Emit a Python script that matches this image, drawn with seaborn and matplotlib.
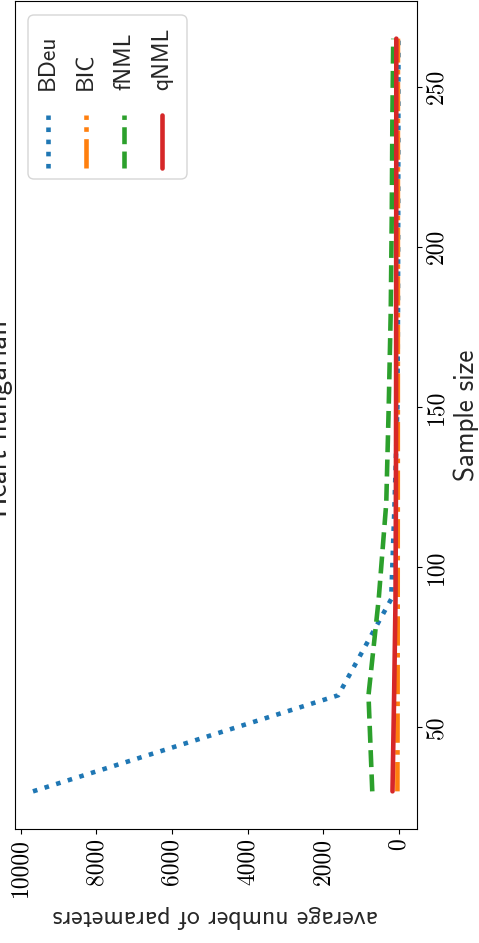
import matplotlib
matplotlib.use("Agg")
import matplotlib.pyplot as plt
import seaborn as sns
from matplotlib.patches import FancyBboxPatch
from matplotlib.lines import Line2D
from matplotlib.transforms import IdentityTransform

# ---- data ----
sample_sizes = [30, 60, 90, 120, 150, 180, 210, 240, 265]
bdeu = [9676, 1600, 200, 110, 35, 20, 14, 10, 8]
bic = [35, 30, 27, 25, 24, 23, 22, 22, 21]
fnml = [700, 800, 530, 330, 265, 211, 184, 168, 145]
qnml = [165, 122, 85, 75, 70, 68, 66, 65, 64]
series_names = ["BDeu", "BIC", "fNML", "qNML"]
param_ticks = [0, 2000, 4000, 6000, 8000, 10000]
size_ticks = [50, 100, 150, 200, 250]
title = "Heart hungarian"
param_label = "average number of parameters"
size_label = "Sample size"

colors = ["#1f77b4", "#ff7f0e", "#2ca02c", "#d62728"]
styles = [":", "-.", "--", "-"]

sns.set_theme(style="ticks", rc={
    "axes.edgecolor": "black",
    "axes.linewidth": 0.8,
    "xtick.color": "black",
    "ytick.color": "black",
    "xtick.major.size": 3.5,
    "ytick.major.size": 3.5,
    "xtick.major.width": 0.8,
    "ytick.major.width": 0.8,
})
plt.rcParams["font.family"] = ["cmss10", "DejaVu Sans"]

W, H = 479, 943
fig = plt.figure(figsize=(W / 100, H / 100), dpi=100)
ax = fig.add_axes([14.7 / W, (H - 829) / H, (416.7 - 14.7) / W, (829 - 1) / H])

for vals, c, ls in zip([bdeu, bic, fnml, qnml], colors, styles):
    sns.lineplot(x=vals, y=sample_sizes, ax=ax, color=c, linestyle=ls,
                 linewidth=3.3, orient="y", legend=False)

ax.invert_xaxis()
ax.set_xticks(param_ticks)
ax.set_yticks(size_ticks)
ax.yaxis.tick_right()
ax.yaxis.set_label_position("right")
for s in ["top", "right", "bottom", "left"]:
    ax.spines[s].set_visible(True)

ax.tick_params(axis="x", labelrotation=90, labelsize=17, pad=3)
ax.tick_params(axis="y", labelrotation=90, labelsize=17, pad=3)
for t in ax.get_xticklabels() + ax.get_yticklabels():
    t.set_fontfamily("cmr10")
for t in ax.get_yticklabels():
    t.set_verticalalignment("center")

ax.set_xlabel(param_label, rotation=180, fontsize=18.5, labelpad=6)
ax.set_ylabel(size_label, rotation=90, fontsize=19.5, labelpad=4)

# title (to the left of the rotated axes)
fig.text(13.5 / W, 1 - 418 / H, title, rotation=90, ha="right", va="center",
         fontsize=21)

# rotated legend, built by hand
box = FancyBboxPatch((28, H - 179), 187 - 28, 179 - 15,
                     boxstyle="round,pad=0,rounding_size=6",
                     transform=IdentityTransform(), fc="white", ec="0.8",
                     lw=1.0, alpha=0.8, zorder=5)
fig.add_artist(box)
handle_x = [48, 86, 124, 162]
for name, c, ls, hx in zip(series_names, colors, styles, handle_x):
    ln = Line2D([hx, hx], [H - 168, H - 115], transform=IdentityTransform(),
                color=c, linestyle=ls, linewidth=3.3, zorder=6)
    fig.add_artist(ln)
    fig.text(hx / W, 1 - 90 / H, name, rotation=90, ha="center", va="bottom",
             fontsize=17, zorder=7)

fig.savefig("out.png", dpi=100)
